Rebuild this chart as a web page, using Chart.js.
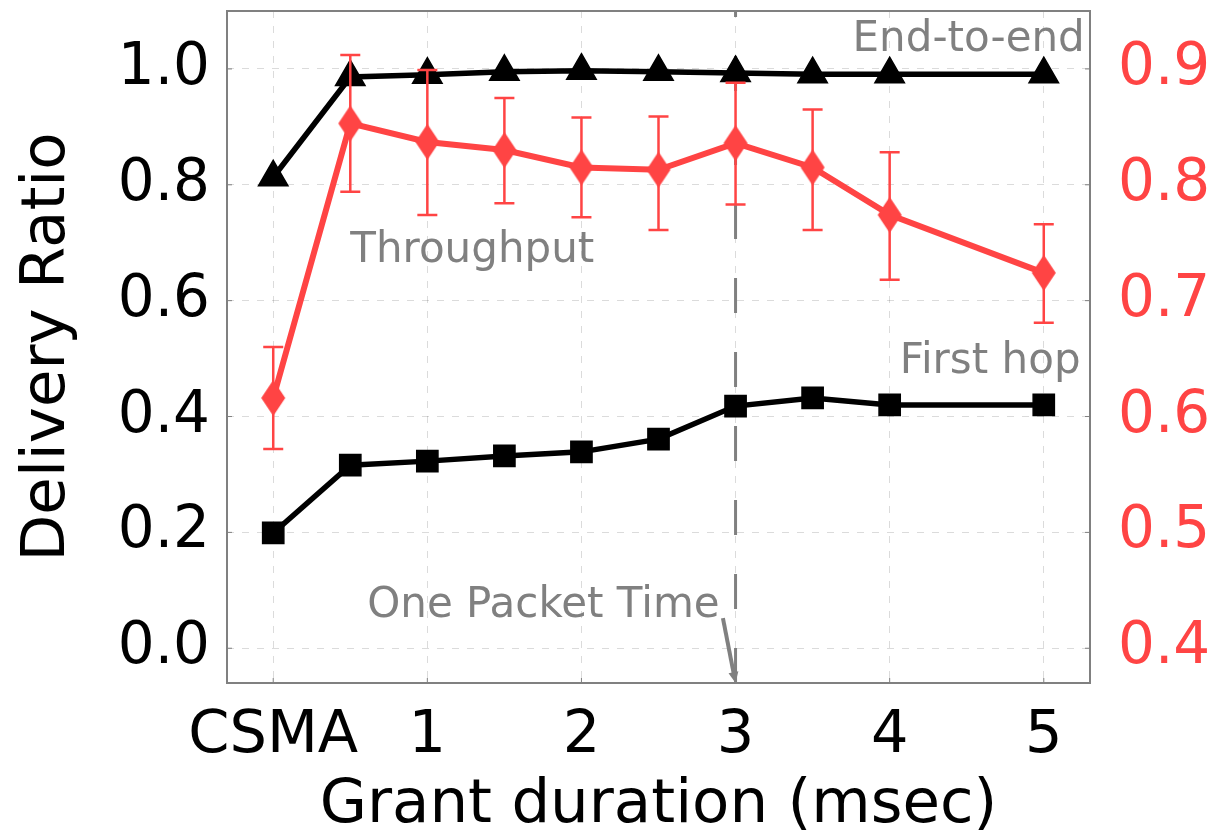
<!DOCTYPE html>
<html lang="en">
<head>
    <meta charset="UTF-8">
    <title>Delivery Ratio vs Grant duration</title>
    <script src="https://cdn.jsdelivr.net/npm/chart.js@4.4.1/dist/chart.umd.min.js"></script>
    <style>
        body { margin: 0; background: #fff; }
        .wrap { width: 1217px; height: 839px; }
    </style>
</head>
<body>
    <div class="wrap"><canvas id="chart"></canvas></div>
    <script>
        // x positions (msec), CSMA sits at 0
        const grantMs = [0, 0.5, 1, 1.5, 2, 2.5, 3, 3.5, 4, 5];
        const endToEnd = [0.813, 0.986, 0.990, 0.995, 0.997, 0.995, 0.993, 0.991, 0.991, 0.991];
        const firstHop = [0.199, 0.316, 0.323, 0.332, 0.339, 0.361, 0.418, 0.432, 0.420, 0.420];
        // throughput is on the right axis
        const throughput = [0.616, 0.853, 0.837, 0.830, 0.815, 0.813, 0.836, 0.815, 0.774, 0.724];
        const throughputHi = [0.660, 0.912, 0.899, 0.875, 0.858, 0.859, 0.888, 0.865, 0.828, 0.766];
        const throughputLo = [0.572, 0.794, 0.774, 0.784, 0.772, 0.761, 0.783, 0.761, 0.718, 0.681];

        const xTicks = [0, 1, 2, 3, 4, 5];
        const xTickLabels = ['CSMA', '1', '2', '3', '4', '5'];
        const leftTicks = [0.0, 0.2, 0.4, 0.6, 0.8, 1.0];
        const rightTicks = [0.4, 0.5, 0.6, 0.7, 0.8, 0.9];
        const packetTime = 3;

        const RED = '#ff4444';
        const GRAY = '#808080';
        const FONT = "'DejaVu Sans', sans-serif";

        const toPoints = (ys) => grantMs.map((x, i) => ({ x: x, y: ys[i] }));

        // thin diamond marker
        const diamond = document.createElement('canvas');
        diamond.width = 26;
        diamond.height = 38;
        const dctx = diamond.getContext('2d');
        dctx.fillStyle = RED;
        dctx.beginPath();
        dctx.moveTo(13, 1);
        dctx.lineTo(25, 19);
        dctx.lineTo(13, 37);
        dctx.lineTo(1, 19);
        dctx.closePath();
        dctx.fill();

        // keep the plot box fixed, no extra label padding
        const noPad = (s, w, h) => {
            if (w) s.width = w;
            if (h) s.height = h;
            s.paddingTop = 0;
            s.paddingBottom = 0;
            s.paddingLeft = 0;
            s.paddingRight = 0;
        };

        const overlay = {
            id: 'overlay',
            beforeDatasetsDraw(chart) {
                const { ctx, chartArea: a, scales: { x } } = chart;
                const px = x.getPixelForValue(packetTime);
                ctx.save();
                ctx.strokeStyle = GRAY;
                ctx.lineWidth = 3;
                ctx.setLineDash([35, 39]);
                ctx.beginPath();
                ctx.moveTo(px, a.bottom);
                ctx.lineTo(px, a.top);
                ctx.stroke();
                ctx.restore();
            },
            beforeDatasetDraw(chart, args) {
                if (args.index !== 0) return;
                const { ctx, scales: { x, y2 } } = chart;
                ctx.save();
                ctx.strokeStyle = RED;
                ctx.lineWidth = 2.5;
                grantMs.forEach((g, i) => {
                    const px = x.getPixelForValue(g);
                    const top = y2.getPixelForValue(throughputHi[i]);
                    const bot = y2.getPixelForValue(throughputLo[i]);
                    ctx.beginPath();
                    ctx.moveTo(px, top); ctx.lineTo(px, bot);
                    ctx.moveTo(px - 10, top); ctx.lineTo(px + 10, top);
                    ctx.moveTo(px - 10, bot); ctx.lineTo(px + 10, bot);
                    ctx.stroke();
                });
                ctx.restore();
            },
            afterDatasetsDraw(chart) {
                const { ctx, chartArea: a, scales: { x, y, y2 } } = chart;
                ctx.save();

                // frame + inward ticks
                ctx.strokeStyle = GRAY;
                ctx.lineWidth = 2;
                ctx.strokeRect(a.left, a.top, a.right - a.left, a.bottom - a.top);
                ctx.lineWidth = 1;
                ctx.beginPath();
                leftTicks.forEach(v => {
                    const py = y.getPixelForValue(v);
                    ctx.moveTo(a.left, py); ctx.lineTo(a.left + 5, py);
                });
                rightTicks.forEach(v => {
                    const py = y2.getPixelForValue(v);
                    ctx.moveTo(a.right, py); ctx.lineTo(a.right - 5, py);
                });
                xTicks.forEach(v => {
                    const px = x.getPixelForValue(v);
                    ctx.moveTo(px, a.bottom); ctx.lineTo(px, a.bottom - 5);
                });
                ctx.stroke();

                // annotations
                ctx.fillStyle = GRAY;
                ctx.font = '42px ' + FONT;
                ctx.textBaseline = 'alphabetic';
                ctx.textAlign = 'right';
                ctx.fillText('End-to-end', x.getPixelForValue(5.266), y.getPixelForValue(1.031));
                ctx.textAlign = 'left';
                ctx.fillText('Throughput', x.getPixelForValue(0.50), y.getPixelForValue(0.667));
                ctx.fillText('First hop', x.getPixelForValue(4.066), y.getPixelForValue(0.475));
                ctx.fillText('One Packet Time', x.getPixelForValue(0.61), y.getPixelForValue(0.054));

                // arrow to the one-packet line
                const x0 = x.getPixelForValue(2.918), y0 = y.getPixelForValue(0.052);
                const x1 = x.getPixelForValue(packetTime), y1 = a.bottom;
                const ang = Math.atan2(y1 - y0, x1 - x0);
                ctx.strokeStyle = GRAY;
                ctx.lineWidth = 4;
                ctx.beginPath();
                ctx.moveTo(x0, y0);
                ctx.lineTo(x1 - 8 * Math.cos(ang), y1 - 8 * Math.sin(ang));
                ctx.stroke();
                ctx.beginPath();
                ctx.moveTo(x1, y1);
                ctx.lineTo(x1 - 11 * Math.cos(ang) + 5 * Math.sin(ang), y1 - 11 * Math.sin(ang) - 5 * Math.cos(ang));
                ctx.lineTo(x1 - 11 * Math.cos(ang) - 5 * Math.sin(ang), y1 - 11 * Math.sin(ang) + 5 * Math.cos(ang));
                ctx.closePath();
                ctx.fill();

                ctx.restore();
            }
        };

        const gridOpts = { color: 'rgba(0,0,0,0.14)', lineWidth: 1, drawTicks: false, borderDash: [7, 8] };
        const borderOpts = { display: false, dash: [7, 8] };

        new Chart(document.getElementById('chart'), {
            type: 'line',
            data: {
                datasets: [
                    {
                        label: 'Throughput',
                        data: toPoints(throughput),
                        yAxisID: 'y2',
                        borderColor: RED,
                        borderWidth: 6,
                        pointStyle: diamond,
                        pointRadius: 13,
                        tension: 0
                    },
                    {
                        label: 'End-to-end',
                        data: toPoints(endToEnd),
                        yAxisID: 'y',
                        borderColor: '#000',
                        backgroundColor: '#000',
                        borderWidth: 5.5,
                        pointStyle: 'triangle',
                        pointRadius: 17,
                        pointBorderWidth: 1.5,
                        pointBackgroundColor: '#000',
                        pointBorderColor: '#000',
                        tension: 0
                    },
                    {
                        label: 'First hop',
                        data: toPoints(firstHop),
                        yAxisID: 'y',
                        borderColor: '#000',
                        backgroundColor: '#000',
                        borderWidth: 5.5,
                        pointStyle: 'rect',
                        pointRadius: 15,
                        pointBorderWidth: 1.5,
                        pointBackgroundColor: '#000',
                        pointBorderColor: '#000',
                        tension: 0
                    }
                ]
            },
            options: {
                responsive: true,
                maintainAspectRatio: false,
                animation: false,
                layout: { autoPadding: false, padding: { top: 11, left: 0, right: 0, bottom: 0 } },
                plugins: { legend: { display: false }, tooltip: { enabled: false } },
                scales: {
                    x: {
                        type: 'linear',
                        min: -0.3,
                        max: 5.3,
                        grid: gridOpts,
                        border: borderOpts,
                        afterBuildTicks: (s) => { s.ticks = xTicks.map(v => ({ value: v })); },
                        afterFit: (s) => noPad(s, 0, 156),
                        ticks: {
                            padding: 18,
                            autoSkip: false,
                            color: '#000',
                            font: { family: FONT, size: 59 },
                            maxRotation: 0,
                            callback: (v) => xTickLabels[xTicks.indexOf(v)]
                        },
                        title: {
                            display: true,
                            text: 'Grant duration (msec)',
                            color: '#000',
                            font: { family: FONT, size: 61, lineHeight: 1 },
                            padding: { top: 0, bottom: 2 }
                        }
                    },
                    y: {
                        position: 'left',
                        min: -0.06,
                        max: 1.1,
                        grid: gridOpts,
                        border: borderOpts,
                        afterBuildTicks: (s) => { s.ticks = leftTicks.map(v => ({ value: v })); },
                        afterFit: (s) => noPad(s, 227, 0),
                        ticks: {
                            padding: 17,
                            autoSkip: false,
                            color: '#000',
                            font: { family: FONT, size: 58 },
                            callback: (v) => v.toFixed(1)
                        },
                        title: {
                            display: true,
                            text: 'Delivery Ratio',
                            color: '#000',
                            font: { family: FONT, size: 61, lineHeight: 1 },
                            padding: { top: 18, bottom: 0 }
                        }
                    },
                    y2: {
                        position: 'right',
                        min: 0.37,
                        max: 0.95,
                        grid: { display: false, drawTicks: false },
                        border: { display: false },
                        afterBuildTicks: (s) => { s.ticks = rightTicks.map(v => ({ value: v })); },
                        afterFit: (s) => noPad(s, 127, 0),
                        ticks: {
                            padding: 28,
                            autoSkip: false,
                            color: RED,
                            font: { family: FONT, size: 58 },
                            callback: (v) => v.toFixed(1)
                        }
                    }
                }
            },
            plugins: [overlay]
        });
    </script>
</body>
</html>
